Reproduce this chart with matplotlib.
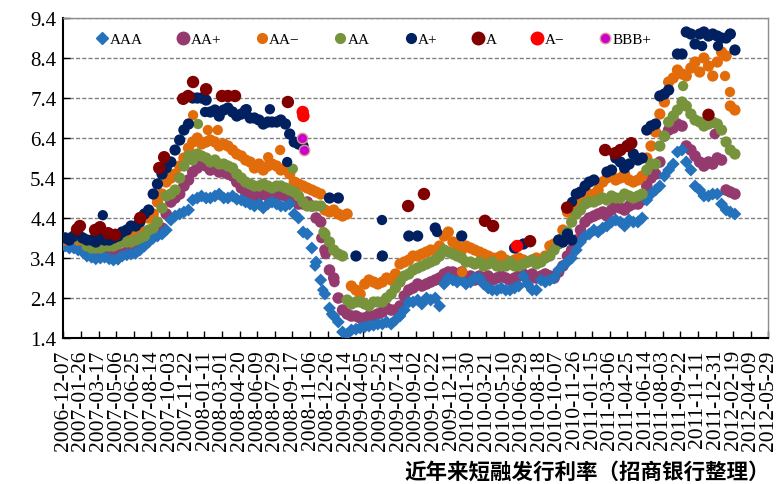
import matplotlib.pyplot as plt
from matplotlib.lines import Line2D
import numpy as np
import pandas as pd

nan = np.nan

# main series read on a 25-day grid, plus a second read half way between
grid_dates = pd.date_range("2006-12-12", periods=77, freq="25D")
mid_dates = pd.date_range("2006-12-24", periods=76, freq="25D")

aaa = [3.70, 3.65, 3.55, 3.42, 3.40, 3.38, 3.37, 3.48, 3.52, 3.70,
       3.90, 4.00, 4.35, 4.50, 4.60, 4.90, 4.90, 4.95, 4.90, 4.95,
       4.85, 4.75, 4.75, 4.75, 4.75, 4.70, 4.50, 4.05, 3.65, 2.85,
       2.15, 1.80, 1.50, 1.62, 1.68, 1.72, 1.75, 1.75, 1.95, 2.30,
       2.35, 2.40, 2.40, 2.75, 2.85, 2.85, 2.80, 2.90, 2.65, 2.60,
       2.60, 2.65, 2.95, 2.60, 2.85, 2.85, 3.10, 3.30, 3.60, 3.95,
       4.10, 4.15, 4.30, 4.30, 4.35, 4.30, 4.85, 5.10, 5.45, 5.75,
       6.10, 5.60, 5.10, 4.95, 5.00, 4.60, 4.50]
aaa_mid = [3.65, 3.60, 3.45, 3.38, 3.42, 3.35, 3.45, 3.50, 3.60, 3.80,
           3.95, 4.10, 4.45, 4.55, 4.85, 4.95, 4.90, 5.00, 4.90, 4.87,
           4.80, 4.70, 4.65, 4.80, 4.70, 4.75, 4.40, 4.00, 3.30, 2.50,
           1.95, 1.55, 1.60, 1.65, 1.70, 1.75, 1.80, 1.85, 2.10, 2.30,
           2.25, 2.35, 2.20, 2.90, 2.80, 2.75, 2.90, 2.75, 2.60, 2.65,
           2.60, 2.70, 2.75, 2.60, 2.80, 2.90, 3.20, 3.40, 3.80, 4.00,
           4.05, 4.20, 4.35, 4.20, 4.30, 4.40, 5.00, 5.20, 5.60, 6.05,
           5.80, 5.20, 4.95, 5.00, 4.75, 4.55]

aa_plus = [3.75, 3.75, 3.72, 3.60, 3.55, 3.50, 3.50, 3.55, 3.65, 3.80,
           3.95, 4.15, 4.80, 5.00, 5.35, 5.65, 5.70, 5.65, 5.55, 5.45,
           5.15, 5.00, 4.95, 4.95, 4.95, 4.95, 4.85, 4.75, 4.70, 4.30,
           3.10, 2.40, 2.00, 1.95, 1.90, 1.95, 2.05, 2.10, 2.20, 2.60,
           2.75, 2.75, 2.85, 3.00, 3.05, 3.05, 2.95, 2.95, 2.95, 2.90,
           2.90, 2.90, 3.00, 3.00, 2.95, 2.95, 3.05, 3.45, 3.85, 4.30,
           4.45, 4.55, 4.60, 4.65, 4.70, 4.75, 5.20, 5.50, 6.45, 6.65,
           6.70, 6.10, 5.80, 5.80, 5.90, 5.10, 5.00]
aa_plus_mid = [3.70, 3.80, 3.65, 3.55, 3.50, 3.45, 3.50, 3.60, 3.70, 3.85,
               4.05, 4.50, 4.90, 5.20, 5.55, 5.75, 5.60, 5.55, 5.50, 5.30,
               5.05, 4.95, 5.00, 4.90, 5.00, 4.90, 4.75, 4.80, 4.40, 3.60,
               2.90, 2.10, 1.95, 1.90, 1.95, 2.00, 2.15, 2.10, 2.45, 2.65,
               2.70, 2.80, 2.90, 3.05, 2.95, 2.90, 2.85, 2.90, 2.85, 2.95,
               2.85, 2.95, 2.85, 2.90, 3.00, 2.90, 3.20, 3.60, 4.10, 4.40,
               4.50, 4.45, 4.70, 4.60, 4.75, 4.85, 5.40, 5.80, 6.60, 6.75,
               6.20, 5.95, 5.70, 5.75, 5.85, 5.05]

aa_minus = [3.85, 3.90, 3.85, 3.80, 3.80, 3.85, 3.85, 3.90, 4.00, 4.05,
            4.50, 5.00, 5.40, 5.70, 6.15, 6.40, 6.30, 6.30, 6.25, 6.10,
            5.95, 5.80, 5.75, 5.70, 5.70, 5.65, 5.30, 5.20, 5.10, 5.00,
            4.55, 4.50, 4.50, 2.60, 2.75, 2.80, 2.80, 2.85, 3.25, 3.35,
            3.45, 3.55, 3.60, 3.95, 3.80, 3.60, 3.65, 3.55, 3.45, 3.40,
            3.35, 3.35, 3.35, 3.35, 3.35, 3.70, 3.80, 4.55, 4.80, 4.95,
            5.00, 5.30, 5.45, 5.40, 5.35, 5.35, 5.90, 6.55, 7.30, 7.90,
            8.00, 8.15, 8.05, 8.20, 8.30, 8.45, 7.10]
aa_minus_mid = [3.90, 3.85, 3.80, 3.75, 3.85, 3.80, 3.90, 3.95, 4.05, 4.40,
                4.80, 5.30, 5.50, 5.90, 6.30, 6.25, 6.35, 6.20, 6.20, 6.00,
                5.85, 5.65, 5.60, 5.75, 5.60, 5.50, 5.25, 5.15, 5.05, 4.60,
                4.60, 4.45, 2.70, 2.50, 2.85, 2.75, 2.90, 3.00, 3.30, 3.45,
                3.50, 3.60, 3.70, 4.05, 3.70, 3.70, 3.60, 3.50, 3.40, 3.45,
                3.30, 3.40, 3.30, 3.40, 3.45, 3.75, 4.10, 4.70, 4.90, 5.00,
                5.10, 5.40, 5.35, 5.50, 5.30, 5.45, 6.20, 7.00, 7.80, 8.10,
                7.95, 8.30, 8.40, 7.95, 8.55, 7.20]

aa = [3.90, 3.95, 3.90, 3.65, 3.65, 3.70, 3.75, 3.80, 3.85, 3.95,
      4.15, 4.65, 5.00, 5.40, 5.95, 6.00, 5.90, 5.85, 5.75, 5.65,
      5.40, 5.25, 5.20, 5.20, 5.20, 5.15, 5.05, 4.80, 4.70, 4.70,
      3.80, 3.50, 2.35, 2.30, 2.25, 2.30, 2.30, 2.50, 2.80, 3.00,
      3.15, 3.25, 3.35, 3.60, 3.50, 3.40, 3.30, 3.30, 3.25, 3.20,
      3.20, 3.20, 3.25, 3.35, 3.30, 3.45, 3.75, 4.05, 4.50, 4.75,
      4.80, 4.90, 4.95, 4.90, 4.95, 4.95, 5.60, 5.75, 6.45, 6.95,
      7.30, 7.00, 6.80, 6.75, 6.75, 6.30, 6.00]
aa_mid = [3.85, 3.90, 3.70, 3.65, 3.70, 3.70, 3.80, 3.80, 3.90, 4.10,
          4.30, 4.95, 5.10, 5.70, 5.85, 5.95, 5.80, 5.75, 5.70, 5.50,
          5.30, 5.20, 5.25, 5.15, 5.20, 5.10, 4.95, 4.70, 4.70, 4.00,
          3.60, 3.45, 2.25, 2.30, 2.20, 2.30, 2.40, 2.65, 2.95, 3.10,
          3.20, 3.30, 3.45, 3.55, 3.45, 3.30, 3.25, 3.20, 3.30, 3.20,
          3.30, 3.20, 3.30, 3.25, 3.40, 3.60, 3.90, 4.30, 4.60, 4.80,
          4.85, 4.85, 4.90, 5.00, 4.90, 5.00, 5.75, 6.20, 6.80, 7.10,
          7.20, 6.85, 6.70, 6.80, 6.60, 6.10]

a_plus = [3.90, 3.95, 3.90, 3.85, 3.90, 3.85, 3.95, 4.10, 4.20, 4.50,
          5.00, 5.50, 5.80, 6.35, 6.75, 7.40, 7.35, 7.10, 7.10, 7.05,
          7.00, 6.90, 6.85, 6.80, 6.80, 6.75, 6.30, 6.20, nan, nan,
          4.90, 4.90, nan, 3.45, nan, nan, 3.45, nan, nan, 3.95,
          3.95, nan, 4.15, nan, nan, 3.95, nan, nan, nan, nan,
          nan, 3.65, 3.75, nan, nan, nan, 3.85, 4.00, 5.00, 5.20,
          5.35, nan, 5.60, 5.80, 5.75, 5.85, 6.60, 6.75, 7.50, nan,
          8.50, 9.00, 9.00, 8.95, 8.95, 8.90, 8.60]
a_plus_mid = [3.85, 4.00, 3.85, 3.80, 3.85, 3.90, 4.05, 4.20, 4.30, 4.60,
              5.25, 5.65, 6.10, 6.60, 7.40, 7.40, 7.05, 6.95, 7.15, 6.95,
              7.10, 6.90, 6.75, 6.80, 6.85, 6.50, 6.25, nan, nan, nan,
              nan, nan, nan, nan, nan, nan, nan, nan, nan, nan,
              nan, nan, nan, nan, nan, nan, nan, nan, nan, nan,
              nan, nan, nan, nan, nan, nan, 3.80, 3.85, 5.05, 5.30,
              nan, 5.55, 5.90, 5.65, 6.00, 5.90, 6.70, 7.45, 7.60, 8.50,
              9.05, 8.75, 9.05, 9.00, 8.90, 9.00]

# extra single issues lying off the main bands
aaa_x_dates = ["2008-11-20", "2008-12-12", "2009-01-06"]
aaa_x_vals = [3.20, 2.60, 2.00]
aa_plus_x_dates = ["2008-12-08", "2008-12-20", "2009-01-14", "2011-12-29"]
aa_plus_x_vals = [3.90, 3.50, 2.80, 6.50]
aa_minus_x_dates = ["2007-12-10", "2008-01-21", "2008-02-18", "2008-07-10", "2008-08-13",
                    "2010-01-11", "2012-01-27", "2012-02-10"]
aa_minus_x_vals = [6.97, 6.60, 6.60, 5.92, 6.10, 3.05, 7.95, 7.55]
aa_x_dates = ["2007-12-24", "2008-09-18", "2008-12-14", "2011-09-30"]
aa_x_vals = [6.75, 5.63, 4.05, 7.70]
a_plus_x_dates = ["2007-03-29", "2008-01-13", "2008-05-10", "2008-07-15", "2008-09-02",
                  "2009-05-29", "2009-11-01", "2010-11-19", "2011-11-23", "2012-01-07",
                  "2012-02-10"]
a_plus_x_vals = [4.47, 7.05, 7.12, 7.12, 5.80, 4.35, 4.05, 4.80, 8.70, 8.70, 9.00]

a_dates = ["2007-01-15", "2007-01-23", "2007-03-07", "2007-03-21", "2007-04-13",
           "2007-05-03", "2007-07-13", "2007-09-05", "2007-09-19", "2007-11-12",
           "2007-11-26", "2007-12-10", "2008-01-16", "2008-03-01", "2008-03-18",
           "2008-04-07", "2008-09-04", "2009-08-11", "2009-09-25", "2010-03-17",
           "2010-04-09", "2010-07-23", "2010-11-05", "2011-02-21", "2011-03-21",
           "2011-04-05", "2011-04-25", "2011-05-06", "2011-12-11"]
a_vals = [4.12, 4.20, 4.10, 4.17, 4.02, 3.98, 4.40, 5.65, 5.92, 7.38,
          7.45, 7.80, 7.62, 7.45, 7.45, 7.45, 7.30, 4.70, 5.00, 4.33,
          4.20, 3.82, 4.66, 6.10, 6.02, 6.10, 6.20, 6.27, 6.98]

a_minus_dates = ["2008-10-16", "2008-10-18", "2010-06-16"]
a_minus_vals = [7.05, 6.95, 3.70]

bbb_plus_dates = ["2008-10-14", "2008-10-20"]
bbb_plus_vals = [6.40, 6.10]

serif = "Liberation Serif"

fig = plt.figure(figsize=(7.79, 4.85), dpi=100)
ax = fig.add_axes([0.0813, 0.301, 0.9051, 0.6598])


def draw(y, y_mid, xd, yd, marker, size, color, z):
    ax.scatter(grid_dates, y, marker=marker, s=size * 1.2, c=color, edgecolors="none", zorder=z)
    ax.scatter(mid_dates, y_mid, marker=marker, s=size * 1.2, c=color, edgecolors="none", zorder=z)
    ax.scatter(pd.to_datetime(xd), yd, marker=marker, s=size, c=color, edgecolors="none", zorder=z)


draw(aa_plus, aa_plus_mid, aa_plus_x_dates, aa_plus_x_vals, "o", 58, "#953A6E", 3)
draw(aaa, aaa_mid, aaa_x_dates, aaa_x_vals, "D", 36, "#2471BC", 4)
draw(aa_minus, aa_minus_mid, aa_minus_x_dates, aa_minus_x_vals, "o", 55, "#E26B0A", 5)
draw(aa, aa_mid, aa_x_dates, aa_x_vals, "o", 55, "#77933C", 6)
draw(a_plus, a_plus_mid, a_plus_x_dates, a_plus_x_vals, "o", 55, "#002060", 7)
ax.scatter(pd.to_datetime(a_dates), a_vals, marker="o", s=80, c="#800000", edgecolors="none", zorder=8)
ax.scatter(pd.to_datetime(a_minus_dates), a_minus_vals, marker="o", s=80, c="#FF0000", edgecolors="none", zorder=9)
ax.scatter(pd.to_datetime(bbb_plus_dates), bbb_plus_vals, marker="o", s=55, c="#CC00CC",
           edgecolors="#D99694", linewidths=1, zorder=10)

legend_style = [
    ("AAA", "D", 6.5, "#2471BC", "none"),
    ("AA+", "o", 9, "#953A6E", "none"),
    ("AA\u2212", "o", 7, "#E26B0A", "none"),
    ("AA", "o", 7, "#77933C", "none"),
    ("A+", "o", 7, "#002060", "none"),
    ("A", "o", 9, "#800000", "none"),
    ("A\u2212", "o", 9, "#FF0000", "none"),
    ("BBB+", "o", 7.5, "#CC00CC", "#D99694"),
]
handles = [Line2D([], [], linestyle="none", marker=m, markersize=ms, markerfacecolor=c,
                  markeredgecolor=(c if e == "none" else e), markeredgewidth=1)
           for _, m, ms, c, e in legend_style]
ax.legend(handles, [s[0] for s in legend_style], ncol=8, loc="upper left",
          bbox_to_anchor=(0.045, 0.955), frameon=False, numpoints=1,
          prop={"family": serif, "size": 11}, handletextpad=0.05,
          columnspacing=2.2, handlelength=0.9, borderaxespad=0, borderpad=0)

tick_dates = pd.date_range("2006-12-07", "2012-05-29", freq="50D")
ax.set_xlim(pd.Timestamp("2006-12-07"), pd.Timestamp("2012-05-29"))
ax.set_xticks(tick_dates.to_pydatetime())
ax.set_xticklabels([d.strftime("%Y-%m-%d") for d in tick_dates], rotation=90,
                   fontsize=15.5, family=serif)

yticks = [1.4, 2.4, 3.4, 4.4, 5.4, 6.4, 7.4, 8.4, 9.4]
ax.set_ylim(1.4, 9.4)
ax.set_yticks(yticks)
ax.set_yticklabels([f"{v:.1f}" for v in yticks], fontsize=15, family=serif)

ax.yaxis.grid(True, color="#808080", linestyle=(0, (3, 1.5)), linewidth=1)
ax.set_axisbelow(True)

for side in ["left", "bottom"]:
    ax.spines[side].set_color("black")
    ax.spines[side].set_linewidth(1.5)
for side in ["top", "right"]:
    ax.spines[side].set_color("#8c8c8c")
    ax.spines[side].set_linewidth(1)

ax.tick_params(axis="x", direction="in", length=5, width=1, pad=8)
ax.tick_params(axis="y", direction="in", length=5, width=1, pad=5)

fig.text(0.988, 0.027, "近年来短融发行利率（招商银行整理）", ha="right", va="center",
         fontsize=15.5, fontweight="bold", family=["Noto Sans CJK SC", "DejaVu Sans"])

fig.savefig("out.png", dpi=100)
